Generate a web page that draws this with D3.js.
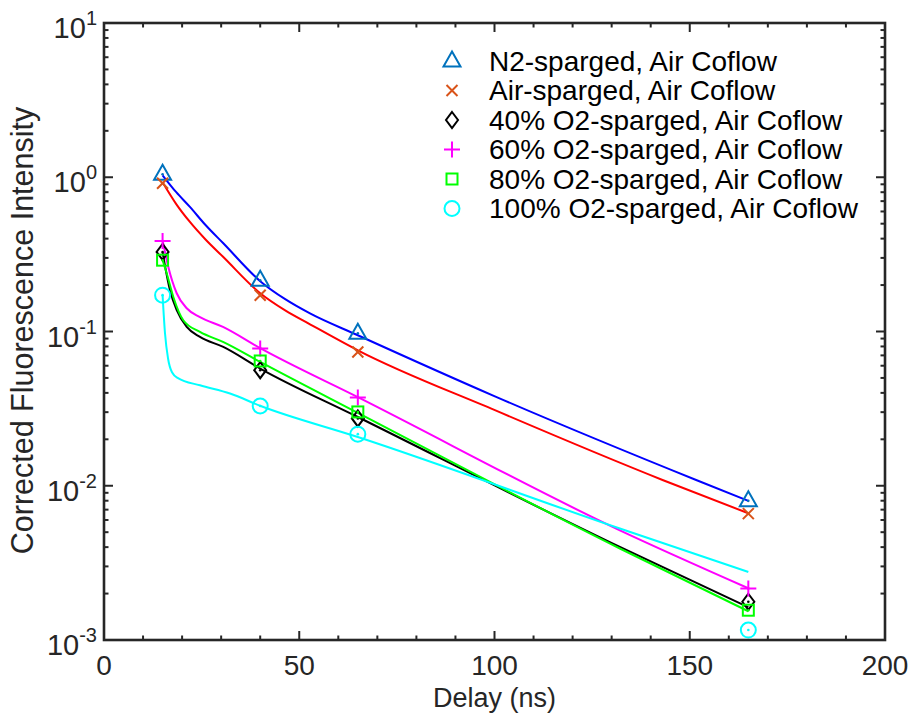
<!DOCTYPE html>
<html>
<head>
<meta charset="utf-8">
<script src="https://cdn.jsdelivr.net/npm/d3@7/dist/d3.min.js"></script>
<style>
  html, body { margin: 0; padding: 0; background: #fff; }
  svg { display: block; font-family: "Liberation Sans", Arial, sans-serif; }
</style>
</head>
<body>
<svg id="chart" width="914" height="716"></svg>
<script>
// Measured delays (ns)
const delays = [15, 40, 65, 165];

// Measured corrected fluorescence intensities
const n2Sparged   = [1.045, 0.215, 0.0974, 0.00798];
const airSparged  = [0.914, 0.172, 0.0737, 0.0066];
const o2Sparged40 = [0.328, 0.0561, 0.0273, 0.00177];
const o2Sparged60 = [0.386, 0.0775, 0.0373, 0.00216];
const o2Sparged80 = [0.290, 0.0644, 0.0301, 0.00156];
const o2Sparged100 = [0.172, 0.0329, 0.0216, 0.00116];

// Fitted decay curves, sampled as [delay, intensity]
const fitN2 = [[15, 1.03], [18.5, 0.80], [22.0, 0.642], [26, 0.49], [30.55, 0.373], [40, 0.212], [46.4, 0.162],
               [52.75, 0.131], [65, 0.0946], [100.1, 0.038], [151.8, 0.01086], [165, 0.00798]];
const fitAir = [[15, 0.928], [18.5, 0.67], [22.0, 0.513], [26, 0.395], [30.55, 0.304], [40, 0.177], [46.4, 0.137],
                [52.75, 0.1114], [65, 0.0755], [100.1, 0.0309], [143.2, 0.01086], [165, 0.00663]];
const fit40 = [[15, 0.3266], [16.9, 0.185], [18.62, 0.1374], [21.18, 0.107], [24.58, 0.0922],
               [30.55, 0.0794], [40, 0.0575], [65, 0.0279], [132.1, 0.00401], [165, 0.00163]];
const fit60 = [[15, 0.391], [16.47, 0.262], [18.62, 0.177], [21.18, 0.1415], [24.58, 0.124],
               [30.47, 0.107], [40, 0.0779], [65, 0.0375], [132.1, 0.00514], [165, 0.002166]];
const fit80 = [[15, 0.290], [16.05, 0.2386], [17.75, 0.1675], [20.31, 0.1183], [24.58, 0.0993],
               [30.47, 0.0856], [40, 0.0635], [65, 0.02965], [132.1, 0.00392], [165, 0.001536]];
const fit100 = [[15, 0.172], [15.62, 0.0974], [16.39, 0.0671], [17.41, 0.0544], [18.95, 0.0498],
                [24.58, 0.0448], [32.27, 0.0396], [40.13, 0.0329], [65, 0.0207], [132.1, 0.00528], [165, 0.00276]];

// Legend entries
const seriesNames = [
  "N2-sparged, Air Coflow",
  "Air-sparged, Air Coflow",
  "40% O2-sparged, Air Coflow",
  "60% O2-sparged, Air Coflow",
  "80% O2-sparged, Air Coflow",
  "100% O2-sparged, Air Coflow"
];

// Axis ticks
const xTicks = [0, 50, 100, 150, 200];
const yExponents = [-3, -2, -1, 0, 1];

const series = [
  { name: seriesNames[0], values: n2Sparged,    fit: fitN2,  marker: "triangle", markerColor: "#0072BD", lineColor: "#0000FF" },
  { name: seriesNames[1], values: airSparged,   fit: fitAir, marker: "cross",    markerColor: "#D95319", lineColor: "#FF0000" },
  { name: seriesNames[2], values: o2Sparged40,  fit: fit40,  marker: "diamond",  markerColor: "#000000", lineColor: "#000000" },
  { name: seriesNames[3], values: o2Sparged60,  fit: fit60,  marker: "plus",     markerColor: "#FF00FF", lineColor: "#FF00FF" },
  { name: seriesNames[4], values: o2Sparged80,  fit: fit80,  marker: "square",   markerColor: "#00FF00", lineColor: "#00FF00" },
  { name: seriesNames[5], values: o2Sparged100, fit: fit100, marker: "circle",   markerColor: "#00FFFF", lineColor: "#00FFFF" }
];

const svg = d3.select("#chart");
const margin = { left: 104, top: 23, right: 914 - 885, bottom: 716 - 640 };
const W = 914 - margin.left - margin.right;
const H = 716 - margin.top - margin.bottom;

const x = d3.scaleLinear().domain([0, 200]).range([0, W]);
const y = d3.scaleLog().domain([1e-3, 1e1]).range([H, 0]);

const g = svg.append("g").attr("transform", `translate(${margin.left},${margin.top})`);

// Fitted curves
const line = d3.line()
  .x(d => x(d[0]))
  .y(d => y(d[1]))
  .curve(d3.curveMonotoneX);

g.append("g").selectAll("path")
  .data(series)
  .join("path")
  .attr("d", d => line(d.fit))
  .attr("fill", "none")
  .attr("stroke", d => d.lineColor)
  .attr("stroke-width", 2);

// Marker shapes
function drawMarker(sel, type, color) {
  const sw = 2;
  if (type === "triangle") {
    sel.append("path").attr("d", "M0,-9.5 L8.5,5.5 L-8.5,5.5 Z")
      .attr("fill", "none").attr("stroke", color).attr("stroke-width", sw).attr("stroke-linejoin", "miter");
  } else if (type === "cross") {
    sel.append("path").attr("d", "M-5.5,-5.5 L5.5,5.5 M-5.5,5.5 L5.5,-5.5")
      .attr("fill", "none").attr("stroke", color).attr("stroke-width", sw);
  } else if (type === "diamond") {
    sel.append("path").attr("d", "M0,-8 L6,0 L0,8 L-6,0 Z")
      .attr("fill", "none").attr("stroke", color).attr("stroke-width", sw);
  } else if (type === "plus") {
    sel.append("path").attr("d", "M-8,0 L8,0 M0,-8 L0,8")
      .attr("fill", "none").attr("stroke", color).attr("stroke-width", sw);
  } else if (type === "square") {
    sel.append("rect").attr("x", -5.5).attr("y", -5.5).attr("width", 11).attr("height", 11)
      .attr("fill", "none").attr("stroke", color).attr("stroke-width", sw);
  } else if (type === "circle") {
    sel.append("circle").attr("r", 7.5)
      .attr("fill", "none").attr("stroke", color).attr("stroke-width", sw);
  }
}

// Data markers
series.forEach(s => {
  const grp = g.append("g");
  s.values.forEach((v, i) => {
    const m = grp.append("g").attr("transform", `translate(${x(delays[i])},${y(v)})`);
    drawMarker(m, s.marker, s.markerColor);
    m.append("circle").attr("r", 1.3).attr("fill", s.markerColor);
  });
});

// Axis box
const axisColor = "#262626";
g.append("rect").attr("x", 0).attr("y", 0).attr("width", W).attr("height", H)
  .attr("fill", "none").attr("stroke", axisColor).attr("stroke-width", 2.6);

// X ticks (major and minor), bottom and top
const xMinor = d3.range(0, 201, 10).filter(v => !xTicks.includes(v));
const tickG = g.append("g").attr("stroke", axisColor).attr("stroke-width", 2);
xTicks.forEach(v => {
  tickG.append("line").attr("x1", x(v)).attr("x2", x(v)).attr("y1", H).attr("y2", H - 9);
  tickG.append("line").attr("x1", x(v)).attr("x2", x(v)).attr("y1", 0).attr("y2", 9);
});
xMinor.forEach(v => {
  tickG.append("line").attr("x1", x(v)).attr("x2", x(v)).attr("y1", H).attr("y2", H - 4.5);
  tickG.append("line").attr("x1", x(v)).attr("x2", x(v)).attr("y1", 0).attr("y2", 4.5);
});

// Y ticks (decades and minor), left and right
yExponents.forEach(e => {
  const v = Math.pow(10, e);
  tickG.append("line").attr("x1", 0).attr("x2", 9).attr("y1", y(v)).attr("y2", y(v));
  tickG.append("line").attr("x1", W).attr("x2", W - 9).attr("y1", y(v)).attr("y2", y(v));
  if (e < 1) {
    for (let k = 2; k <= 9; k++) {
      const mv = k * v;
      tickG.append("line").attr("x1", 0).attr("x2", 4.5).attr("y1", y(mv)).attr("y2", y(mv));
      tickG.append("line").attr("x1", W).attr("x2", W - 4.5).attr("y1", y(mv)).attr("y2", y(mv));
    }
  }
});

// X tick labels
g.append("g").selectAll("text")
  .data(xTicks)
  .join("text")
  .attr("x", d => x(d))
  .attr("y", H + 35)
  .attr("text-anchor", "middle")
  .attr("font-size", 28)
  .attr("fill", axisColor)
  .text(d => d);

// Y tick labels: 10 with superscript exponent
const yl = g.append("g");
yExponents.forEach(e => {
  const t = yl.append("text")
    .attr("x", -7)
    .attr("y", y(Math.pow(10, e)) + 15)
    .attr("text-anchor", "end")
    .attr("font-size", 29)
    .attr("fill", axisColor);
  t.append("tspan").text("10");
  t.append("tspan").attr("dy", -13).attr("font-size", 20).text(String(e));
});

// Axis titles
svg.append("text")
  .attr("x", margin.left + W / 2)
  .attr("y", 707)
  .attr("text-anchor", "middle")
  .attr("font-size", 27)
  .attr("fill", axisColor)
  .text("Delay (ns)");

svg.append("text")
  .attr("transform", `translate(33,${margin.top + H / 2 - 1}) rotate(-90)`)
  .attr("text-anchor", "middle")
  .attr("font-size", 30.5)
  .attr("fill", axisColor)
  .text("Corrected Fluorescence Intensity");

// Legend
const legend = svg.append("g");
series.forEach((s, i) => {
  const ly = 61 + i * 29.5;
  const m = legend.append("g").attr("transform", `translate(452,${ly})`);
  drawMarker(m, s.marker, s.markerColor);
  legend.append("text")
    .attr("x", 489)
    .attr("y", ly + 9.5)
    .attr("font-size", 28)
    .attr("fill", "#000")
    .text(s.name);
});
</script>
</body>
</html>
